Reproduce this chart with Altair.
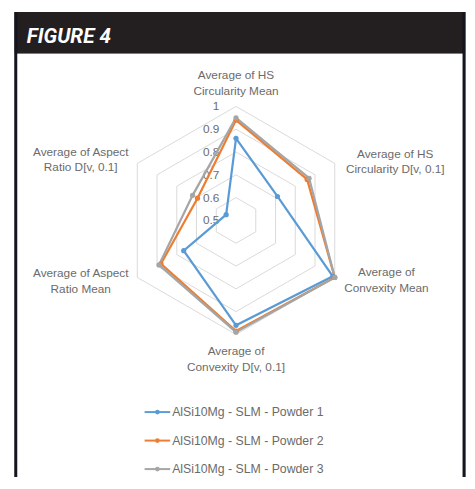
import altair as alt
import pandas as pd

# ---------------- data ----------------
axis_labels = [
    "Average of HS\nCircularity Mean",
    "Average of HS\nCircularity D[v, 0.1]",
    "Average of\nConvexity Mean",
    "Average of\nConvexity D[v, 0.1]",
    "Average of Aspect\nRatio Mean",
    "Average of Aspect\nRatio D[v, 0.1]",
]
series_names = [
    "AlSi10Mg - SLM - Powder 1",
    "AlSi10Mg - SLM - Powder 2",
    "AlSi10Mg - SLM - Powder 3",
]
powder1 = [0.86, 0.71, 0.99, 0.96, 0.765, 0.55]
powder2 = [0.94, 0.86, 1.00, 0.985, 0.88, 0.695]
powder3 = [0.95, 0.87, 1.00, 0.99, 0.89, 0.72]
tick_values = [0.5, 0.6, 0.7, 0.8, 0.9, 1.0]
tick_labels = ["0.5", "0.6", "0.7", "0.8", "0.9", "1"]
ring_values = [0.6, 0.7, 0.8, 0.9, 1.0]
title_text = "FIGURE 4"

# ---------------- layout ----------------
W, H = 467, 473
CX, CY, R = 232, 212, 116
VMIN, VMAX = 0.5, 1.0
colors = ["#5B9BD5", "#ED7D31", "#A5A5A5"]
label_dx = [0, 162, 153, 0, -158, -158]
label_dy = [-148, -68, 53, 133, 54, -70]
FONT = "Liberation Sans"
TXT = "#6B6B6B"

series_df = pd.DataFrame(
    [
        {"series": s, "k": k, "value": v}
        for s, vals in zip(series_names, [powder1, powder2, powder3])
        for k, v in enumerate(vals)
    ]
)
ring_df = pd.DataFrame(
    [{"ring": r, "k": k, "value": r} for r in ring_values for k in range(6)]
)
tick_df = pd.DataFrame({"value": tick_values, "label": tick_labels})
label_df = pd.DataFrame(
    {"k": list(range(6)), "label": axis_labels, "dx": label_dx, "dy": label_dy}
)
legend_df = pd.DataFrame({"series": series_names, "i": list(range(3))})

xs = alt.Scale(domain=[0, W], range=[0, W], nice=False, zero=False)
ys = alt.Scale(domain=[0, H], range=[0, H], nice=False, zero=False)
color_scale = alt.Scale(domain=series_names, range=colors)

rad = f"{R}*(datum.value-{VMIN})/({VMAX}-{VMIN})"
px = f"{CX}+{rad}*sin(datum.k*PI/3)"
py = f"{CY}-{rad}*cos(datum.k*PI/3)"

rings = (
    alt.Chart(ring_df)
    .transform_calculate(x=px, y=py)
    .mark_line(interpolate="linear-closed", color="#D9D9D9", strokeWidth=1)
    .encode(
        x=alt.X("x:Q", scale=xs, axis=None),
        y=alt.Y("y:Q", scale=ys, axis=None),
        detail="ring:N",
        order="k:Q",
    )
)

ticks = (
    alt.Chart(tick_df)
    .transform_calculate(x=f"{CX - 17}", y=f"{CY}-{rad}")
    .mark_text(align="right", baseline="middle", font=FONT, fontSize=12, color=TXT)
    .encode(
        x=alt.X("x:Q", scale=xs, axis=None),
        y=alt.Y("y:Q", scale=ys, axis=None),
        text="label:N",
    )
)

lines = (
    alt.Chart(series_df)
    .transform_calculate(x=px, y=py)
    .mark_line(interpolate="linear-closed", strokeWidth=2.25)
    .encode(
        x=alt.X("x:Q", scale=xs, axis=None),
        y=alt.Y("y:Q", scale=ys, axis=None),
        color=alt.Color("series:N", scale=color_scale, legend=None),
        detail="series:N",
        order="k:Q",
    )
)

points = (
    alt.Chart(series_df)
    .transform_calculate(x=px, y=py)
    .mark_circle(size=28, opacity=1)
    .encode(
        x=alt.X("x:Q", scale=xs, axis=None),
        y=alt.Y("y:Q", scale=ys, axis=None),
        color=alt.Color("series:N", scale=color_scale, legend=None),
    )
)

labels = (
    alt.Chart(label_df)
    .transform_calculate(x=f"{CX}+datum.dx", y=f"{CY}+datum.dy")
    .mark_text(
        align="center", baseline="middle", lineBreak="\n", lineHeight=16,
        font=FONT, fontSize=12, color=TXT,
    )
    .encode(
        x=alt.X("x:Q", scale=xs, axis=None),
        y=alt.Y("y:Q", scale=ys, axis=None),
        text="label:N",
    )
)

# legend (built from the series names)
leg_base = alt.Chart(legend_df).transform_calculate(
    y="407+datum.i*29", x1="139", x2="165", xm="152", xt="167"
)
leg_lines = leg_base.mark_rule(strokeWidth=2).encode(
    x=alt.X("x1:Q", scale=xs, axis=None),
    x2="x2:Q",
    y=alt.Y("y:Q", scale=ys, axis=None),
    color=alt.Color("series:N", scale=color_scale, legend=None),
)
leg_pts = leg_base.mark_circle(size=22, opacity=1).encode(
    x=alt.X("xm:Q", scale=xs, axis=None),
    y=alt.Y("y:Q", scale=ys, axis=None),
    color=alt.Color("series:N", scale=color_scale, legend=None),
)
leg_txt = leg_base.mark_text(
    align="left", baseline="middle", font=FONT, fontSize=12.5, color=TXT
).encode(
    x=alt.X("xt:Q", scale=xs, axis=None),
    y=alt.Y("y:Q", scale=ys, axis=None),
    text="series:N",
)

# frame and header
header = alt.Chart(legend_df).mark_rect(color="#231F20").encode(
    x=alt.value(7), x2=alt.value(465), y=alt.value(0), y2=alt.value(42)
)
left_border = alt.Chart(legend_df).mark_rule(color="#151520", strokeWidth=2.5).encode(
    x=alt.value(8), y=alt.value(0), y2=alt.value(H)
)
right_border = alt.Chart(legend_df).mark_rule(color="#151520", strokeWidth=2.5).encode(
    x=alt.value(464), y=alt.value(0), y2=alt.value(H)
)
title = alt.Chart(pd.DataFrame({"t": [title_text]})).mark_text(
    align="left", baseline="alphabetic", font="Roboto", fontSize=21,
    fontWeight="bold", fontStyle="italic", color="white",
).encode(x=alt.value(19), y=alt.value(31), text="t:N")

chart = (
    alt.layer(
        header, left_border, right_border, title,
        rings, ticks, lines, points, labels,
        leg_lines, leg_pts, leg_txt,
    )
    .properties(width=W, height=H, padding=0, autosize=alt.AutoSizeParams(type="none"))
    .configure_view(stroke=None)
)

chart.save("out.html", embed_options={"renderer": "svg", "actions": False})
